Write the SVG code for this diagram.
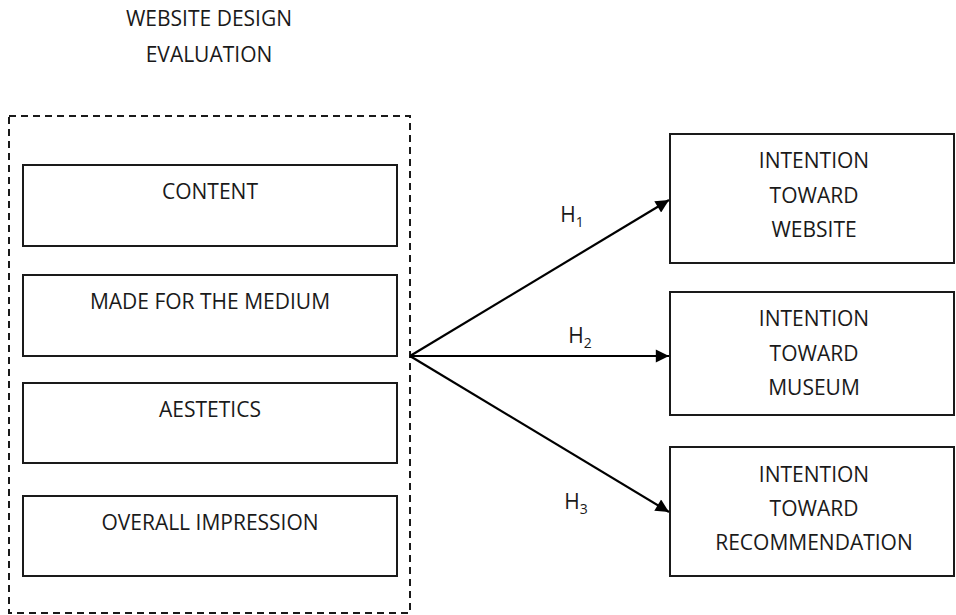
<svg xmlns="http://www.w3.org/2000/svg" width="956" height="615" viewBox="0 0 956 615">
<style>
text{font-family:"Open Sans","Liberation Sans",sans-serif;font-size:21px;fill:#1a1a1a;text-anchor:middle}
.box{fill:#fff;stroke:#1a1a1a;stroke-width:2}
.dash{fill:none;stroke:#1a1a1a;stroke-width:2;stroke-dasharray:7 5}
.conn{stroke:#000;stroke-width:2.2;fill:none}
.sub{font-size:14px}
</style>
<defs>
<marker id="arr" viewBox="0 0 10 10" refX="10" refY="5" markerWidth="7" markerHeight="6" markerUnits="strokeWidth" orient="auto">
<path d="M0,0 L10,5 L0,10 z" fill="#000"/>
</marker>
</defs>
<g id="title">
<text x="209" y="26">WEBSITE DESIGN</text>
<text x="209" y="62">EVALUATION</text>
</g>
<g id="group-evaluation">
<rect class="dash" x="9" y="116" width="401" height="497"/>
</g>
<g id="content"><rect class="box" x="23" y="165" width="374" height="81"/><text x="210" y="199">CONTENT</text></g>
<g id="medium"><rect class="box" x="23" y="275" width="374" height="81"/><text x="210" y="309">MADE FOR THE MEDIUM</text></g>
<g id="aestetics"><rect class="box" x="23" y="383" width="374" height="80"/><text x="210" y="417">AESTETICS</text></g>
<g id="overall"><rect class="box" x="23" y="496" width="374" height="80"/><text x="210" y="530">OVERALL IMPRESSION</text></g>
<g id="website"><rect class="box" x="670" y="134" width="284" height="129"/><text x="814" y="168">INTENTION</text><text x="814" y="203">TOWARD</text><text x="814" y="237">WEBSITE</text></g>
<g id="museum"><rect class="box" x="670" y="292" width="284" height="123"/><text x="814" y="326">INTENTION</text><text x="814" y="361">TOWARD</text><text x="814" y="395">MUSEUM</text></g>
<g id="recommendation"><rect class="box" x="670" y="447" width="284" height="129"/><text x="814" y="482">INTENTION</text><text x="814" y="516">TOWARD</text><text x="814" y="550">RECOMMENDATION</text></g>
<g id="connectors">
<line class="conn" x1="410" y1="356" x2="669" y2="200" marker-end="url(#arr)"/>
<line class="conn" x1="410" y1="356" x2="669" y2="356" marker-end="url(#arr)"/>
<line class="conn" x1="410" y1="356" x2="669" y2="512" marker-end="url(#arr)"/>
<text x="572" y="222">H<tspan class="sub" dy="5">1</tspan></text>
<text x="580" y="343">H<tspan class="sub" dy="5">2</tspan></text>
<text x="576" y="509">H<tspan class="sub" dy="5">3</tspan></text>
</g>
</svg>
